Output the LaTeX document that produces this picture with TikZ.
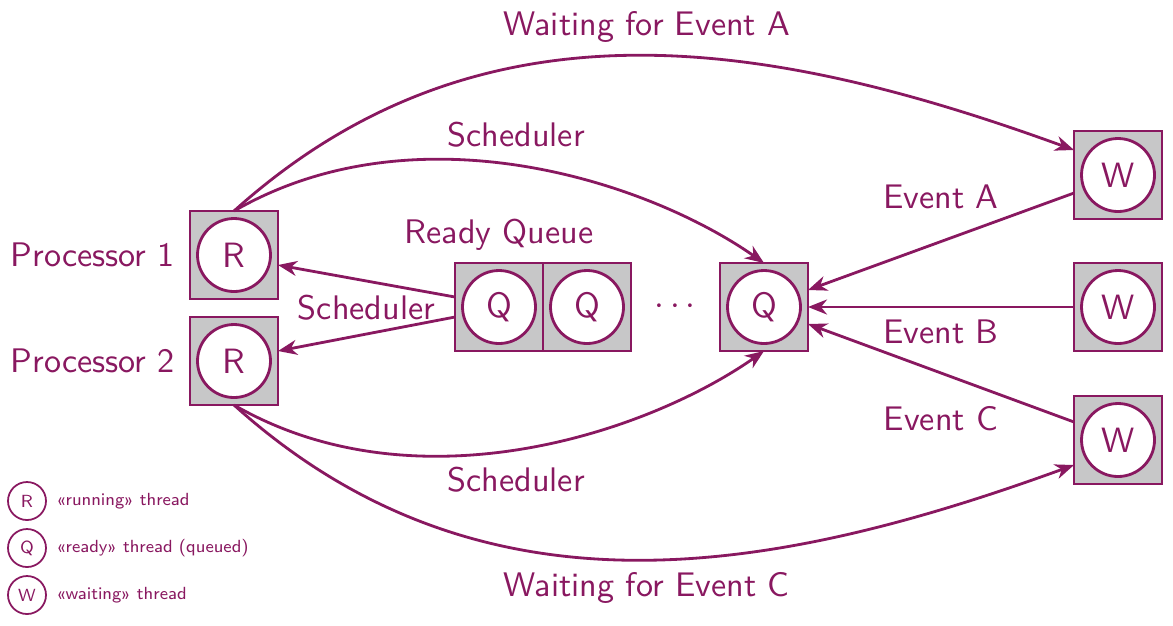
\documentclass[tikz,border=0pt]{standalone}
\usetikzlibrary{positioning,arrows.meta,calc}
\renewcommand{\familydefault}{\sfdefault}
\definecolor{thrcol}{RGB}{137,24,96}
\definecolor{slotgray}{RGB}{199,199,200}
\tikzset{
    slot/.style={rectangle, draw=thrcol, fill=slotgray, minimum size=8.8mm, inner sep=0mm, outer sep=0mm, line width=0.8pt},
    thr/.style={circle, draw=thrcol, fill=white, minimum size=7.3mm, inner sep=0mm, line width=0.8pt, text=thrcol},
    thrS/.style={circle, draw=thrcol, minimum size=3.8mm, inner sep=0mm, line width=0.5pt, font=\tiny, text=thrcol},
    lbl/.style={text=thrcol, font=\fontsize{9.7}{11.6}\selectfont},
    trans/.style={-{Stealth[length=1.9mm, width=1.5mm, inset=0.6mm]}, draw=thrcol, line width=0.8pt},
    node distance=1.5
}
\begin{document}
\begin{tikzpicture}
	\useasboundingbox (0,0) rectangle (11.73,6.25);
	% processors
	\node[slot] (p1) at (2.34,3.70) {};
	\node[thr] (r1) at (p1) {R};
	\node[lbl, left=0.3mm of p1] (p1l) {Processor 1};
	\node[slot] (p2) at (2.34,2.64) {};
	\node[thr] (r2) at (p2) {R};
	\node[lbl, left=0.3mm of p2] (p2l) {Processor 2};

	% ready queue
	\node[slot] (q1) at (4.99,3.18) {};
	\node[thr] (rq1) at (q1) {Q};
	\node[slot, right=0mm of q1] (q2) {};
	\node[thr] (rq2) at (q2) {Q};
	\node[lbl, above=0mm of q1] (rql) {Ready Queue};
	\node[lbl] (dots) at (6.75,3.18) {$\cdots$};
	\node[slot] (q3) at (7.64,3.18) {};
	\node[thr] (rq3) at (q3) {Q};

	% waiting
	\node[slot] (w1) at (11.18,4.50) {};
	\node[thr] (rw1) at (w1) {W};
	\node[slot] (w2) at (11.18,3.18) {};
	\node[thr] (rw2) at (w2) {W};
	\node[slot] (w3) at (11.18,1.85) {};
	\node[thr] (rw3) at (w3) {W};

	\draw[trans] ([yshift=1mm]q1.west) -- ([yshift=-1mm]p1.east);
	\draw[trans] ([yshift=-1mm]q1.west) -- ([yshift=1mm]p2.east);
	\path (q1.west) -- node[lbl] (sch0) {Scheduler} ($(p1.east)!0.5!(p2.east)$);

	\draw[trans] (p1.north) to[out=30, in=145, in looseness=0.7] node[lbl, pos=0.49, above=0.5mm] (sch1) {Scheduler} (q3.north);
	\draw[trans] (p1.north) to[out=42, in=160] node[lbl, pos=0.52, above] (wa) {Waiting for Event A} ([yshift=2.5mm]w1.west);
	\draw[trans] (p2.south) to[out=-30, in=-145, in looseness=0.7] node[lbl, pos=0.49, below=0.5mm] (sch2) {Scheduler} (q3.south);
	\draw[trans] (p2.south) to[out=-42, in=-160] node[lbl, pos=0.52, below] (wc) {Waiting for Event C} ([yshift=-2.5mm]w3.west);

	\draw[trans] ([yshift=-1.8mm]w1.west) -- node[lbl, above=2mm] (ea) {Event A} ([yshift=1.7mm]q3.east);
	\draw[trans] (w2.west) -- node[lbl, below=0mm] (eb) {Event B} (q3.east);
	\draw[trans] ([yshift=1.8mm]w3.west) -- node[lbl, below=2mm] (ec) {Event C} ([yshift=-1.7mm]q3.east);

	% legend
	\node[thrS] (lr) at (0.27,1.24) {R};
	\node[lbl, font=\tiny, right=-0.3mm of lr] (lrt) {«running» thread};
	\node[thrS] (lq) at (0.27,0.77) {Q};
	\node[lbl, font=\tiny, right=-0.3mm of lq] (lqt) {«ready» thread (queued)};
	\node[thrS] (lw) at (0.27,0.30) {W};
	\node[lbl, font=\tiny, right=-0.3mm of lw] (lwt) {«waiting» thread};
\end{tikzpicture}
\end{document}
